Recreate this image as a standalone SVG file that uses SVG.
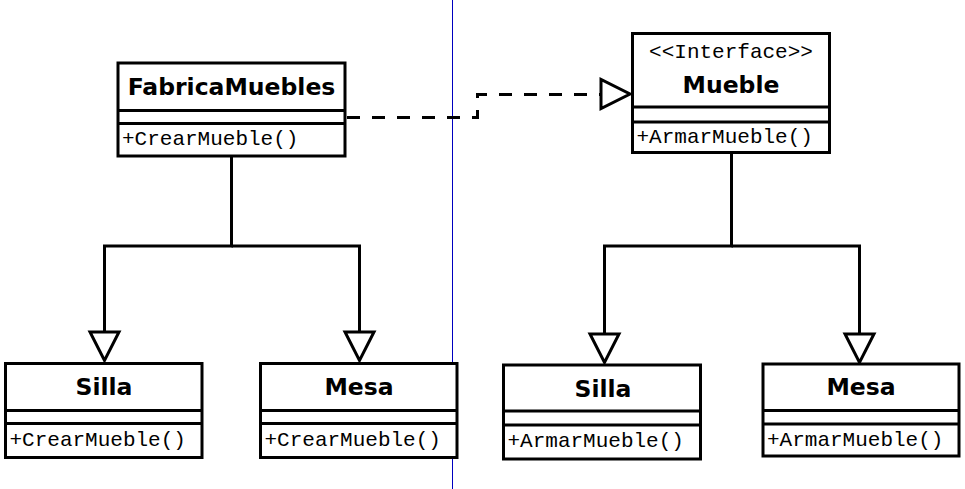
<svg xmlns="http://www.w3.org/2000/svg" width="965" height="489" viewBox="0 0 965 489">
<style>
.box{fill:#fff;stroke:#000;stroke-width:3}
.div{stroke:#000;stroke-width:3}
.title{font-family:"DejaVu Sans",Verdana,sans-serif;font-weight:bold;font-size:23.5px;fill:#000;text-anchor:middle}
.stereo{font-family:"Liberation Mono","Courier New",monospace;font-size:21px;fill:#000;text-anchor:middle}
.op{font-family:"Liberation Mono","Courier New",monospace;font-size:21px;fill:#000}
.conn{fill:none;stroke:#000;stroke-width:3}
.head{fill:#fff;stroke:#000;stroke-width:3;stroke-linejoin:miter}
</style>
<rect width="965" height="489" fill="#fff"/>
<line x1="452.5" y1="0" x2="452.5" y2="489" stroke="#0000c0" stroke-width="1"/>
<g id="connectors">
<polyline class="conn" points="347,117.5 477.5,117.5 477.5,94.5 601,94.5" stroke-dasharray="13 12"/>
<polygon class="head" points="601,79.5 601,108.5 630,94"/>
<polyline class="conn" points="231.5,157 231.5,246 104.5,246 104.5,332"/>
<polyline class="conn" points="231.5,246 359.5,246 359.5,332"/>
<polygon class="head" points="90,332 119,332 104.5,360.5"/>
<polygon class="head" points="345,332 374,332 359.5,360.5"/>
<polyline class="conn" points="731.5,154 731.5,246 604.5,246 604.5,334"/>
<polyline class="conn" points="731.5,246 859.5,246 859.5,334"/>
<polygon class="head" points="590,334 619,334 604.5,362.5"/>
<polygon class="head" points="845,334 874,334 859.5,362.5"/>
</g>
<g id="FabricaMuebles">
<rect class="box" x="118" y="63" width="227" height="93"/>
<line class="div" x1="118" y1="110.5" x2="345" y2="110.5"/>
<line class="div" x1="118" y1="123.5" x2="345" y2="123.5"/>
<text class="title" x="231.5" y="95">FabricaMuebles</text>
<text class="op" x="122" y="145">+CrearMueble()</text>
</g>
<g id="Mueble">
<rect class="box" x="632.5" y="33.5" width="197" height="119"/>
<line class="div" x1="632.5" y1="107" x2="829.5" y2="107"/>
<line class="div" x1="632.5" y1="122" x2="829.5" y2="122"/>
<text class="stereo" x="731" y="58">&lt;&lt;Interface&gt;&gt;</text>
<text class="title" x="731" y="93">Mueble</text>
<text class="op" x="636.5" y="143">+ArmarMueble()</text>
</g>
<g id="Silla1">
<rect class="box" x="5.5" y="363.5" width="196.5" height="94"/>
<line class="div" x1="5.5" y1="410.5" x2="202" y2="410.5"/>
<line class="div" x1="5.5" y1="423.5" x2="202" y2="423.5"/>
<text class="title" x="104" y="395">Silla</text>
<text class="op" x="9.5" y="446">+CrearMueble()</text>
</g>
<g id="Mesa1">
<rect class="box" x="260.5" y="363.5" width="196.5" height="94"/>
<line class="div" x1="260.5" y1="410.5" x2="457" y2="410.5"/>
<line class="div" x1="260.5" y1="423.5" x2="457" y2="423.5"/>
<text class="title" x="359" y="395">Mesa</text>
<text class="op" x="264.5" y="446">+CrearMueble()</text>
</g>
<g id="Silla2">
<rect class="box" x="503.5" y="365" width="197" height="94"/>
<line class="div" x1="503.5" y1="411" x2="700.5" y2="411"/>
<line class="div" x1="503.5" y1="425" x2="700.5" y2="425"/>
<text class="title" x="603" y="397">Silla</text>
<text class="op" x="507.5" y="447">+ArmarMueble()</text>
</g>
<g id="Mesa2">
<rect class="box" x="763" y="364" width="196" height="92"/>
<line class="div" x1="763" y1="410.5" x2="959" y2="410.5"/>
<line class="div" x1="763" y1="424" x2="959" y2="424"/>
<text class="title" x="861" y="395">Mesa</text>
<text class="op" x="767" y="446">+ArmarMueble()</text>
</g>
</svg>
